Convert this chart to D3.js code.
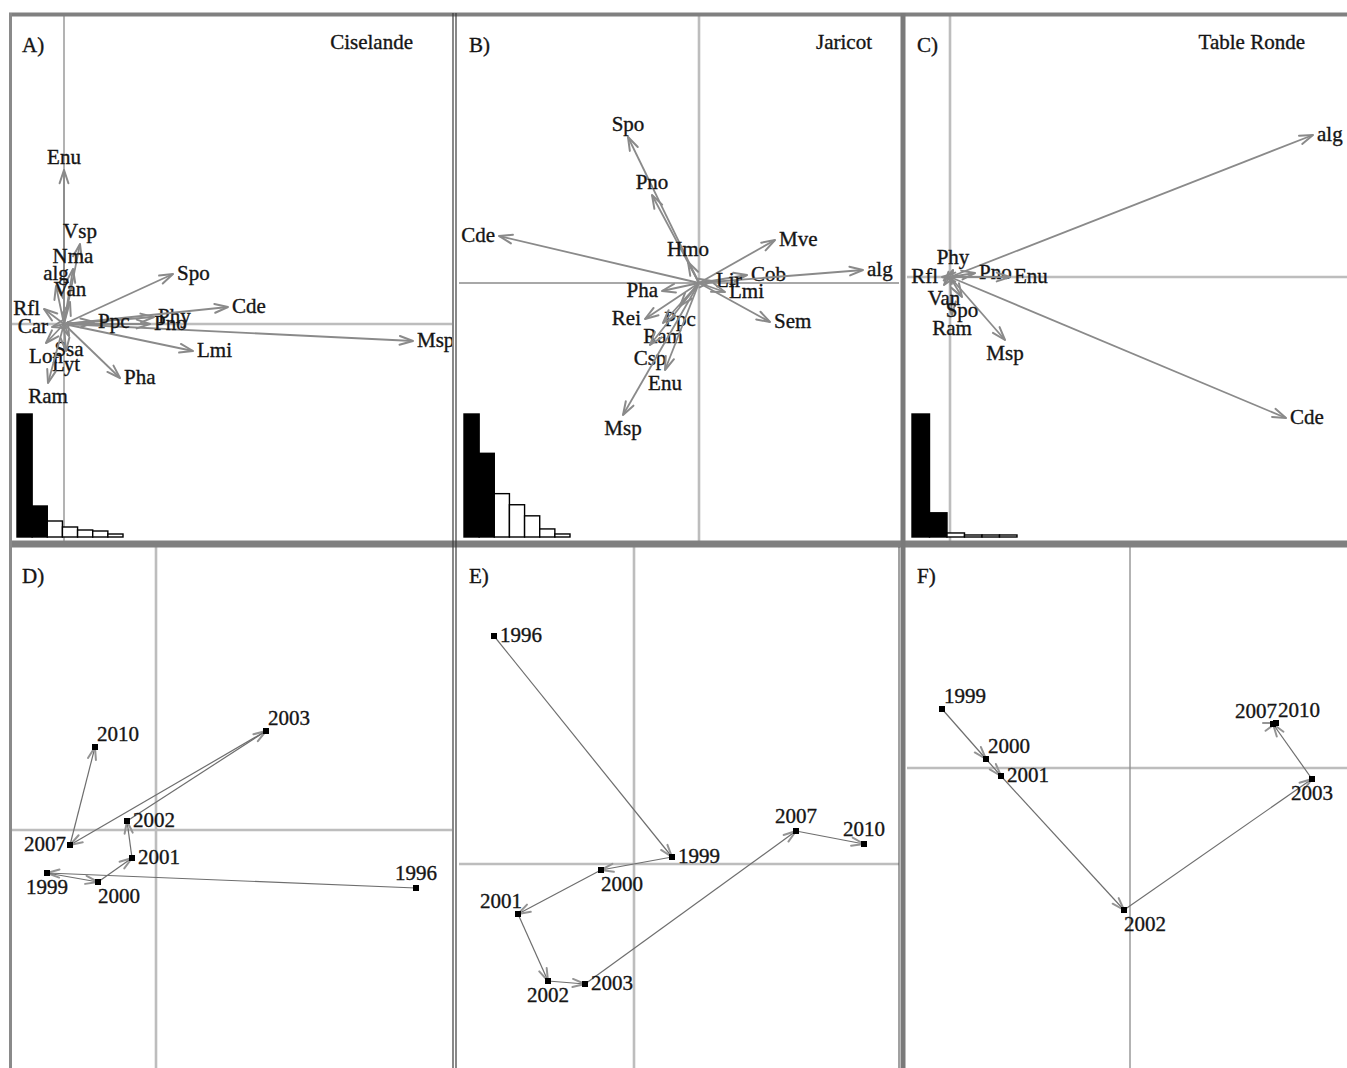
<!DOCTYPE html>
<html>
<head>
<meta charset="utf-8">
<script src="https://cdn.jsdelivr.net/npm/d3@7/dist/d3.min.js"></script>
<style>
  body { margin: 0; background: #fff; }
  svg { display: block; }
  text { font-family: "Liberation Serif", "Times New Roman", serif; font-size: 21px; fill: #151515; stroke: #151515; stroke-width: 0.35px; }
</style>
</head>
<body>
<svg id="chart" width="1347" height="1068"></svg>
<script>
// A) Ciselande - species arrows
const ciselandeSpecies = ['Enu', 'Vsp', 'Nma', 'alg', 'Rfl', 'Van', 'Car', 'Lon', 'Ssa', 'Lyt', 'Ram', 'Pha', 'Lmi', 'Msp', 'Pno', 'Phy', 'Cde', 'Spo', 'Ppc'];
const ciselandeX = [0.00, 0.16, 0.09, -0.08, -0.20, 0.06, -0.12, -0.18, 0.05, 0.02, -0.16, 0.56, 1.29, 3.49, 0.86, 0.90, 1.64, 1.09, 0.30];
const ciselandeY = [1.54, 0.80, 0.55, 0.38, 0.15, 0.22, -0.03, -0.19, -0.12, -0.27, -0.59, -0.54, -0.27, -0.17, 0.00, 0.07, 0.17, 0.50, 0.02];
const ciselandeEigen = [1.23, 0.31, 0.16, 0.10, 0.07, 0.06, 0.03];

// B) Jaricot
const jaricotSpecies = ['Spo', 'Pno', 'Cde', 'Hmo', 'Mve', 'Cob', 'alg', 'Lir', 'Lmi', 'Sem', 'Pha', 'Ppc', 'Rei', 'Ram', 'Csp', 'Enu', 'Msp'];
const jaricotX = [-0.71, -0.47, -2.00, -0.11, 0.76, 0.48, 1.64, 0.13, 0.26, 0.71, -0.37, -0.19, -0.54, -0.36, -0.49, -0.34, -0.76];
const jaricotY = [1.46, 0.88, 0.47, 0.21, 0.43, 0.08, 0.13, 0.02, -0.09, -0.39, -0.08, -0.23, -0.36, -0.40, -0.62, -0.87, -1.32];
const jaricotEigen = [1.22, 0.83, 0.43, 0.32, 0.21, 0.08, 0.03];

// C) Table Ronde
const tableRondeSpecies = ['alg', 'Cde', 'Msp', 'Ram', 'Spo', 'Van', 'Rfl', 'Phy', 'Pno', 'Enu'];
const tableRondeX = [3.63, 3.36, 0.55, 0.02, 0.12, -0.06, -0.08, 0.03, 0.25, 0.60];
const tableRondeY = [1.42, -1.41, -0.63, -0.38, -0.20, -0.08, 0.00, 0.07, 0.04, 0.00];
const tableRondeEigen = [1.22, 0.24, 0.04, 0.02, 0.02, 0.02];

// D-F) yearly trajectories
const ciselandeYears = ['1996', '1999', '2000', '2001', '2002', '2003', '2007', '2010'];
const ciselandeTrajX = [2.60, -1.09, -0.58, -0.24, -0.29, 1.10, -0.86, -0.61];
const ciselandeTrajY = [-0.58, -0.43, -0.52, -0.28, 0.09, 0.99, -0.15, 0.83];

const jaricotYears = ['1996', '1999', '2000', '2001', '2002', '2003', '2007', '2010'];
const jaricotTrajX = [-1.40, 0.38, -0.33, -1.16, -0.86, -0.49, 1.62, 2.30];
const jaricotTrajY = [2.28, 0.07, -0.06, -0.50, -1.17, -1.20, 0.33, 0.20];

const tableRondeYears = ['1999', '2000', '2001', '2002', '2003', '2007', '2010'];
const tableRondeTrajX = [-1.88, -1.44, -1.29, -0.06, 1.82, 1.43, 1.46];
const tableRondeTrajY = [0.59, 0.09, -0.08, -1.42, -0.11, 0.44, 0.45];

const svg = d3.select('#chart');

// panel layout
const panels = [
  { letter: 'A)', title: 'Ciselande', titleEnd: 413, x0: 12, x1: 452, y0: 16, y1: 541, xd: [-0.52, 3.88], yd: [-2.17, 3.08],
    vAxis: 'dark', hAxis: 'light', species: ciselandeSpecies, sx: ciselandeX, sy: ciselandeY, eigen: ciselandeEigen },
  { letter: 'B)', title: 'Jaricot', titleEnd: 872, x0: 459, x1: 899, y0: 16, y1: 541, xd: [-2.40, 2.00], yd: [-2.58, 2.67],
    vAxis: 'light', hAxis: 'mid', species: jaricotSpecies, sx: jaricotX, sy: jaricotY, eigen: jaricotEigen },
  { letter: 'C)', title: 'Table Ronde', titleEnd: 1305, x0: 907, x1: 1347, y0: 16, y1: 541, xd: [-0.43, 3.97], yd: [-2.64, 2.61],
    vAxis: 'light', hAxis: 'light', species: tableRondeSpecies, sx: tableRondeX, sy: tableRondeY, eigen: tableRondeEigen },
  { letter: 'D)', x0: 12, x1: 452, y0: 547, y1: 1068, xd: [-1.44, 2.96], yd: [-2.38, 2.83],
    vAxis: 'light', hAxis: 'light', years: ciselandeYears, tx: ciselandeTrajX, ty: ciselandeTrajY,
    pos: { '1996': 'n', '1999': 's', '2000': 'se', '2001': 'e', '2002': 'e', '2003': 'ne', '2007': 'w', '2010': 'ne' } },
  { letter: 'E)', x0: 459, x1: 899, y0: 547, y1: 1068, xd: [-1.75, 2.65], yd: [-2.04, 3.17],
    vAxis: 'light', hAxis: 'light', years: jaricotYears, tx: jaricotTrajX, ty: jaricotTrajY,
    pos: { '1996': 'e', '1999': 'e', '2000': 'se', '2001': 'nw', '2002': 's', '2003': 'e', '2007': 'n', '2010': 'n' } },
  { letter: 'F)', x0: 907, x1: 1347, y0: 547, y1: 1068, xd: [-2.23, 2.17], yd: [-3.00, 2.21],
    vAxis: 'dark', hAxis: 'light', years: tableRondeYears, tx: tableRondeTrajX, ty: tableRondeTrajY,
    pos: { '1999': 'ne', '2000': 'ne', '2001': 'e', '2002': 'se', '2003': 's', '2007': 'nw', '2010': 'ne' } }
];

const axisStyle = {
  light: { stroke: '#bdbdbd', width: 2.6 },
  mid: { stroke: '#a8a8a8', width: 2.2 },
  dark: { stroke: '#8a8a8a', width: 1.3 }
};

// label offsets for trajectory points
const offsets = {
  e: [6, 6, 'start'], ne: [2, -6, 'start'], n: [0, -8, 'middle'], nw: [4, -6, 'end'],
  w: [-4, 6, 'end'], s: [0, 21, 'middle'], se: [0, 21, 'start'], sw: [0, 21, 'end']
};

function drawHead(g, x1, y1, x2, y2, len, color, width) {
  const a = Math.atan2(y2 - y1, x2 - x1);
  const p = d3.path();
  [-1, 1].forEach(s => {
    p.moveTo(x2, y2);
    p.lineTo(x2 - len * Math.cos(a + s * 0.32), y2 - len * Math.sin(a + s * 0.32));
  });
  g.append('path').attr('d', p.toString())
    .attr('fill', 'none').attr('stroke', color).attr('stroke-width', width)
    .attr('stroke-linecap', 'round');
}

const defs = svg.append('defs');

panels.forEach((pn, idx) => {
  const x = d3.scaleLinear().domain(pn.xd).range([pn.x0, pn.x1]);
  const y = d3.scaleLinear().domain(pn.yd).range([pn.y1, pn.y0]);

  defs.append('clipPath').attr('id', 'clip' + idx)
    .append('rect').attr('x', pn.x0).attr('y', pn.y0)
    .attr('width', pn.x1 - pn.x0).attr('height', pn.y1 - pn.y0);

  const g = svg.append('g').attr('clip-path', `url(#clip${idx})`);

  // zero axes
  const vs = axisStyle[pn.vAxis], hs = axisStyle[pn.hAxis];
  g.append('line').attr('x1', pn.x0).attr('x2', pn.x1).attr('y1', y(0)).attr('y2', y(0))
    .attr('stroke', hs.stroke).attr('stroke-width', hs.width);
  g.append('line').attr('x1', x(0)).attr('x2', x(0)).attr('y1', pn.y0).attr('y2', pn.y1)
    .attr('stroke', vs.stroke).attr('stroke-width', vs.width);

  if (pn.species) {
    // eigenvalue bars
    const bx = d3.scaleBand().domain(d3.range(pn.eigen.length))
      .range([pn.x0 + 5, pn.x0 + 5 + (pn.eigen.length === 7 ? 106 : 105)]);
    const by = d3.scaleLinear().domain([0, d3.max(pn.eigen)]).range([pn.y1 - 4, pn.y1 - 127]);
    g.selectAll('.eig').data(pn.eigen).join('rect')
      .attr('x', (d, i) => bx(i)).attr('width', bx.bandwidth())
      .attr('y', d => by(d)).attr('height', d => by(0) - by(d))
      .attr('fill', (d, i) => i < 2 ? '#000' : '#fff')
      .attr('stroke', '#000').attr('stroke-width', 1.4);

    // species arrows
    pn.species.forEach((name, i) => {
      const dx = pn.sx[i], dy = pn.sy[i];
      const tx = x(dx), ty = y(dy);
      g.append('line').attr('x1', x(0)).attr('y1', y(0)).attr('x2', tx).attr('y2', ty)
        .attr('stroke', '#8a8a8a').attr('stroke-width', 1.8);
      drawHead(g, x(0), y(0), tx, ty, 14, '#8a8a8a', 2);

      let lx, ly, anchor;
      if (Math.abs(dx) >= Math.abs(dy)) {
        anchor = dx >= 0 ? 'start' : 'end';
        lx = dx >= 0 ? tx + 4 : tx - 4;
        ly = ty + 6;
      } else {
        anchor = 'middle';
        lx = tx;
        ly = dy >= 0 ? ty - 6 : ty + 20;
      }
      g.append('text').attr('x', lx).attr('y', ly).attr('text-anchor', anchor).text(name);
    });
  } else {
    // trajectory between consecutive years
    const pts = pn.years.map((yr, i) => ({ yr, px: x(pn.tx[i]), py: y(pn.ty[i]) }));
    d3.pairs(pts).forEach(([a, b]) => {
      g.append('line').attr('x1', a.px).attr('y1', a.py).attr('x2', b.px).attr('y2', b.py)
        .attr('stroke', '#6e6e6e').attr('stroke-width', 1.2);
      drawHead(g, a.px, a.py, b.px, b.py, 13, '#949494', 2);
    });
    g.selectAll('.pt').data(pts).join('rect')
      .attr('x', d => d.px - 3).attr('y', d => d.py - 3)
      .attr('width', 6).attr('height', 6).attr('fill', '#000');
    pts.forEach(d => {
      const o = offsets[pn.pos[d.yr]];
      g.append('text').attr('x', d.px + o[0]).attr('y', d.py + o[1])
        .attr('text-anchor', o[2]).text(d.yr);
    });
  }

  // panel letter and site name
  g.append('text').attr('x', pn.x0 + 10).attr('y', pn.y0 + 36).text(pn.letter);
  if (pn.title) {
    g.append('text').attr('x', pn.titleEnd).attr('y', pn.y0 + 33)
      .attr('text-anchor', 'end').text(pn.title);
  }
});

// frames
const frame = svg.append('g');
frame.append('line').attr('x1', 9).attr('x2', 1347).attr('y1', 14.5).attr('y2', 14.5)
  .attr('stroke', '#808080').attr('stroke-width', 4);
frame.append('line').attr('x1', 9).attr('x2', 1347).attr('y1', 544).attr('y2', 544)
  .attr('stroke', '#808080').attr('stroke-width', 7);
frame.append('line').attr('x1', 10.5).attr('x2', 10.5).attr('y1', 13).attr('y2', 1068)
  .attr('stroke', '#8a8a8a').attr('stroke-width', 3);
[453, 456].forEach(xx => {
  frame.append('line').attr('x1', xx).attr('x2', xx).attr('y1', 13).attr('y2', 1068)
    .attr('stroke', '#3a3a3a').attr('stroke-width', 1.2);
});
frame.append('line').attr('x1', 903).attr('x2', 903).attr('y1', 13).attr('y2', 1068)
  .attr('stroke', '#7a7a7a').attr('stroke-width', 5);
frame.append('line').attr('x1', 899).attr('x2', 899).attr('y1', 547).attr('y2', 1068)
  .attr('stroke', '#444').attr('stroke-width', 1);
</script>
</body>
</html>
